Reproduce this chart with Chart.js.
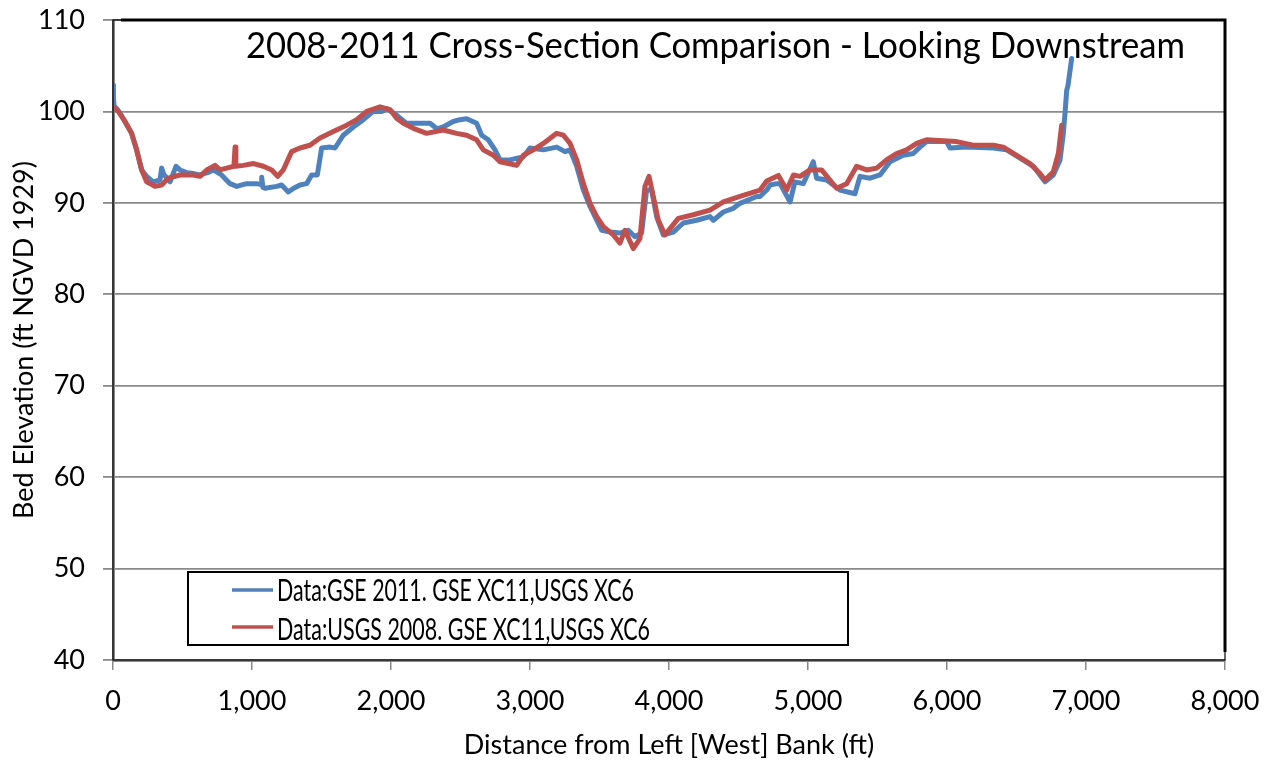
<!DOCTYPE html>
<html><head><meta charset="utf-8">
<script src="https://cdn.jsdelivr.net/npm/chart.js@4.4.1/dist/chart.umd.min.js"></script>
<style>html,body{margin:0;padding:0;background:#fff}#wrap{width:1273px;height:765px;position:relative}</style>
</head><body><div id="wrap"><canvas id="c" width="1273" height="765"></canvas></div>
<script>
// ---- data ----
const gseDist = [0,3,8,38,86,134,170,206,242,290,338,350,365,395,410,453,482,530,580,626,680,722,781,842,890,962,1034,1065,1070,1078,1094,1178,1213,1261,1300,1345,1393,1429,1470,1501,1561,1597,1657,1729,1801,1873,1933,1970,2040,2112,2209,2281,2330,2376,2424,2448,2496,2544,2616,2652,2700,2748,2784,2856,2916,2950,3000,3096,3192,3252,3288,3336,3384,3432,3480,3516,3576,3647,3707,3755,3803,3839,3875,3911,3959,4031,4103,4199,4295,4319,4391,4463,4511,4631,4655,4703,4727,4775,4799,4871,4906,4966,5038,5062,5134,5230,5338,5374,5446,5518,5590,5685,5757,5805,5853,5997,6022,6141,6333,6429,6525,6621,6705,6765,6813,6837,6850,6861,6870,6897];
const gseElev = [102.9,101.5,100.6,100.1,98.9,97.6,95.8,93.6,92.9,92.3,92.5,93.8,93.1,92.6,92.3,94.0,93.6,93.3,93.2,93.05,93.3,93.6,93.05,92.1,91.8,92.1,92.1,92.0,92.8,91.7,91.6,91.8,91.95,91.2,91.6,91.95,92.1,93.05,93.05,96.0,96.1,96.0,97.4,98.3,99.1,100.0,100.0,100.3,99.6,98.7,98.7,98.7,98.1,98.3,98.7,98.9,99.1,99.2,98.7,97.4,96.9,95.8,94.7,94.7,94.9,95.0,96.0,95.8,96.1,95.6,95.8,94.0,91.4,89.6,88.1,87.0,86.8,86.7,87.0,86.3,86.7,91.4,91.4,88.5,86.5,86.8,87.8,88.1,88.5,88.1,89.0,89.4,89.95,90.7,90.7,91.4,91.95,92.1,92.1,90.1,92.3,92.1,94.5,92.7,92.5,91.4,91.0,92.9,92.7,93.05,94.5,95.2,95.4,96.1,96.7,96.7,96.0,96.1,96.0,95.8,94.9,94.0,92.3,93.05,94.7,97.6,100.0,102.3,102.8,105.8];
const usgsDist = [0,38,86,134,170,206,242,302,350,398,482,578,626,674,734,770,818,870,878,884,938,1010,1082,1142,1185,1225,1285,1345,1417,1489,1585,1681,1753,1825,1921,1993,2040,2089,2161,2256,2376,2472,2544,2616,2664,2736,2784,2844,2904,2952,3024,3096,3192,3240,3288,3336,3384,3432,3480,3528,3600,3647,3683,3743,3791,3827,3856,3887,3923,3971,4067,4175,4295,4391,4511,4655,4703,4787,4847,4895,4942,5014,5098,5206,5278,5350,5422,5494,5565,5637,5709,5781,5853,5973,6069,6189,6333,6405,6501,6597,6669,6705,6765,6801,6825];
const usgsElev = [100.5,100.0,98.9,97.6,95.8,93.6,92.3,91.8,91.95,92.7,93.05,93.05,92.9,93.6,94.1,93.6,93.8,94.0,96.1,94.0,94.1,94.3,94.0,93.6,92.9,93.6,95.6,96.0,96.3,97.1,97.8,98.5,99.1,100.0,100.5,100.2,99.25,98.7,98.15,97.6,97.97,97.6,97.4,96.9,95.8,95.2,94.5,94.3,94.1,95.2,95.8,96.5,97.6,97.4,96.5,94.7,92.1,89.95,88.5,87.4,86.5,85.6,87.0,85.0,86.1,91.8,92.9,90.7,88.1,86.5,88.3,88.7,89.2,90.1,90.7,91.4,92.4,93.0,91.4,93.05,92.9,93.6,93.6,91.6,92.1,94.0,93.6,93.8,94.7,95.4,95.8,96.5,96.9,96.8,96.7,96.3,96.3,96.1,95.2,94.3,93.2,92.5,93.4,95.4,98.5];
const seriesNames = ["Data:GSE 2011. GSE XC11,USGS XC6", "Data:USGS 2008. GSE XC11,USGS XC6"];
const chartTitle = "2008-2011 Cross-Section Comparison - Looking Downstream";
const xAxisTitle = "Distance from Left [West] Bank (ft)";
const yAxisTitle = "Bed Elevation (ft NGVD 1929)";
const xTickValues = [0,1000,2000,3000,4000,5000,6000,7000,8000];
const yTickValues = [40,50,60,70,80,90,100,110];

const BLUE = '#4F81BD', RED = '#C0504D', GRID = '#8a8a8a';
const FONT = 'Lato, "Open Sans", sans-serif';

function pts(xs, ys){ return xs.map((x,i)=>({x:x, y:ys[i]})); }

function fitText(ctx, text, x, y, width, size){
  ctx.save();
  ctx.font = size + 'px ' + FONT;
  ctx.textAlign = 'left'; ctx.textBaseline = 'alphabetic';
  const w = ctx.measureText(text).width;
  ctx.translate(x, y);
  ctx.scale(width / w, 1);
  ctx.fillStyle = '#000';
  ctx.fillText(text, 0, 0);
  ctx.restore();
}

const overlay = {
  id: 'overlay',
  afterDraw(chart){
    const ctx = chart.ctx, a = chart.chartArea;
    ctx.save();
    // plot frame
    ctx.strokeStyle = '#000';
    ctx.lineWidth = 1.2;
    ctx.strokeRect(a.left, a.top, a.right - a.left, a.bottom - a.top);
    ctx.lineWidth = 3;
    ctx.beginPath();
    ctx.moveTo(a.left + 8, a.top); ctx.lineTo(a.right, a.top); ctx.lineTo(a.right, a.bottom - 8);
    ctx.stroke();
    // title
    fitText(ctx, chartTitle, 246, 58, 939, 37);
    // legend
    const lx = 188, ly = 572, lw = 660, lh = 73;
    ctx.fillStyle = '#fff';
    ctx.fillRect(lx, ly, lw, lh);
    ctx.strokeStyle = '#000'; ctx.lineWidth = 2;
    ctx.strokeRect(lx, ly, lw, lh);
    const rows = [[BLUE, 590, 601, 357], [RED, 627, 640, 373]];
    rows.forEach((r, i) => {
      ctx.strokeStyle = r[0]; ctx.lineWidth = 3.5; ctx.lineCap = 'butt';
      ctx.beginPath(); ctx.moveTo(232, r[1]); ctx.lineTo(273, r[1]); ctx.stroke();
      fitText(ctx, seriesNames[i], 277, r[2], r[3], 31);
    });
    ctx.restore();
  }
};

new Chart(document.getElementById('c'), {
  type: 'line',
  data: {
    datasets: [
      { label: seriesNames[1], data: pts(usgsDist, usgsElev), borderColor: RED, backgroundColor: RED, borderWidth: 5, pointRadius: 0, tension: 0, borderJoinStyle: 'round', borderCapStyle: 'round', order: 1 },
      { label: seriesNames[0], data: pts(gseDist, gseElev), borderColor: BLUE, backgroundColor: BLUE, borderWidth: 5, pointRadius: 0, tension: 0, borderJoinStyle: 'round', borderCapStyle: 'round', order: 2 }
    ]
  },
  options: {
    responsive: false,
    animation: false,
    devicePixelRatio: 1,
    layout: { padding: { left: 0, right: 48, top: 20, bottom: 0 } },
    plugins: { legend: { display: false }, title: { display: false }, tooltip: { enabled: false } },
    scales: {
      x: {
        type: 'linear', min: 0, max: 8000,
        afterBuildTicks(s){ s.ticks = xTickValues.map(v => ({value: v})); },
        afterFit(s){ s.height = 105; s.paddingLeft = 0; s.paddingRight = 0; },
        ticks: { color: '#000', font: { family: FONT, size: 27 }, padding: 15, maxRotation: 0,
                 callback: v => v.toLocaleString('en-US') },
        grid: { drawOnChartArea: false, drawTicks: true, tickLength: 10, color: GRID, lineWidth: 1.5 },
        border: { display: true, color: GRID, width: 3 },
        title: { display: true, text: xAxisTitle, color: '#000', font: { family: FONT, size: 27 }, padding: { top: 0, bottom: 4 } }
      },
      y: {
        type: 'linear', min: 40, max: 110,
        afterBuildTicks(s){ s.ticks = yTickValues.map(v => ({value: v})); },
        afterFit(s){ s.width = 113; s.paddingTop = 0; s.paddingBottom = 0; },
        ticks: { color: '#000', font: { family: FONT, size: 27 }, padding: 18 },
        grid: { drawTicks: true, tickLength: 10, color: GRID, lineWidth: 1.8 },
        border: { display: true, color: GRID, width: 3 },
        title: { display: true, text: yAxisTitle, color: '#000', font: { family: FONT, size: 27 }, padding: { top: 8, bottom: 0 } }
      }
    }
  },
  plugins: [overlay]
});
</script></body></html>
